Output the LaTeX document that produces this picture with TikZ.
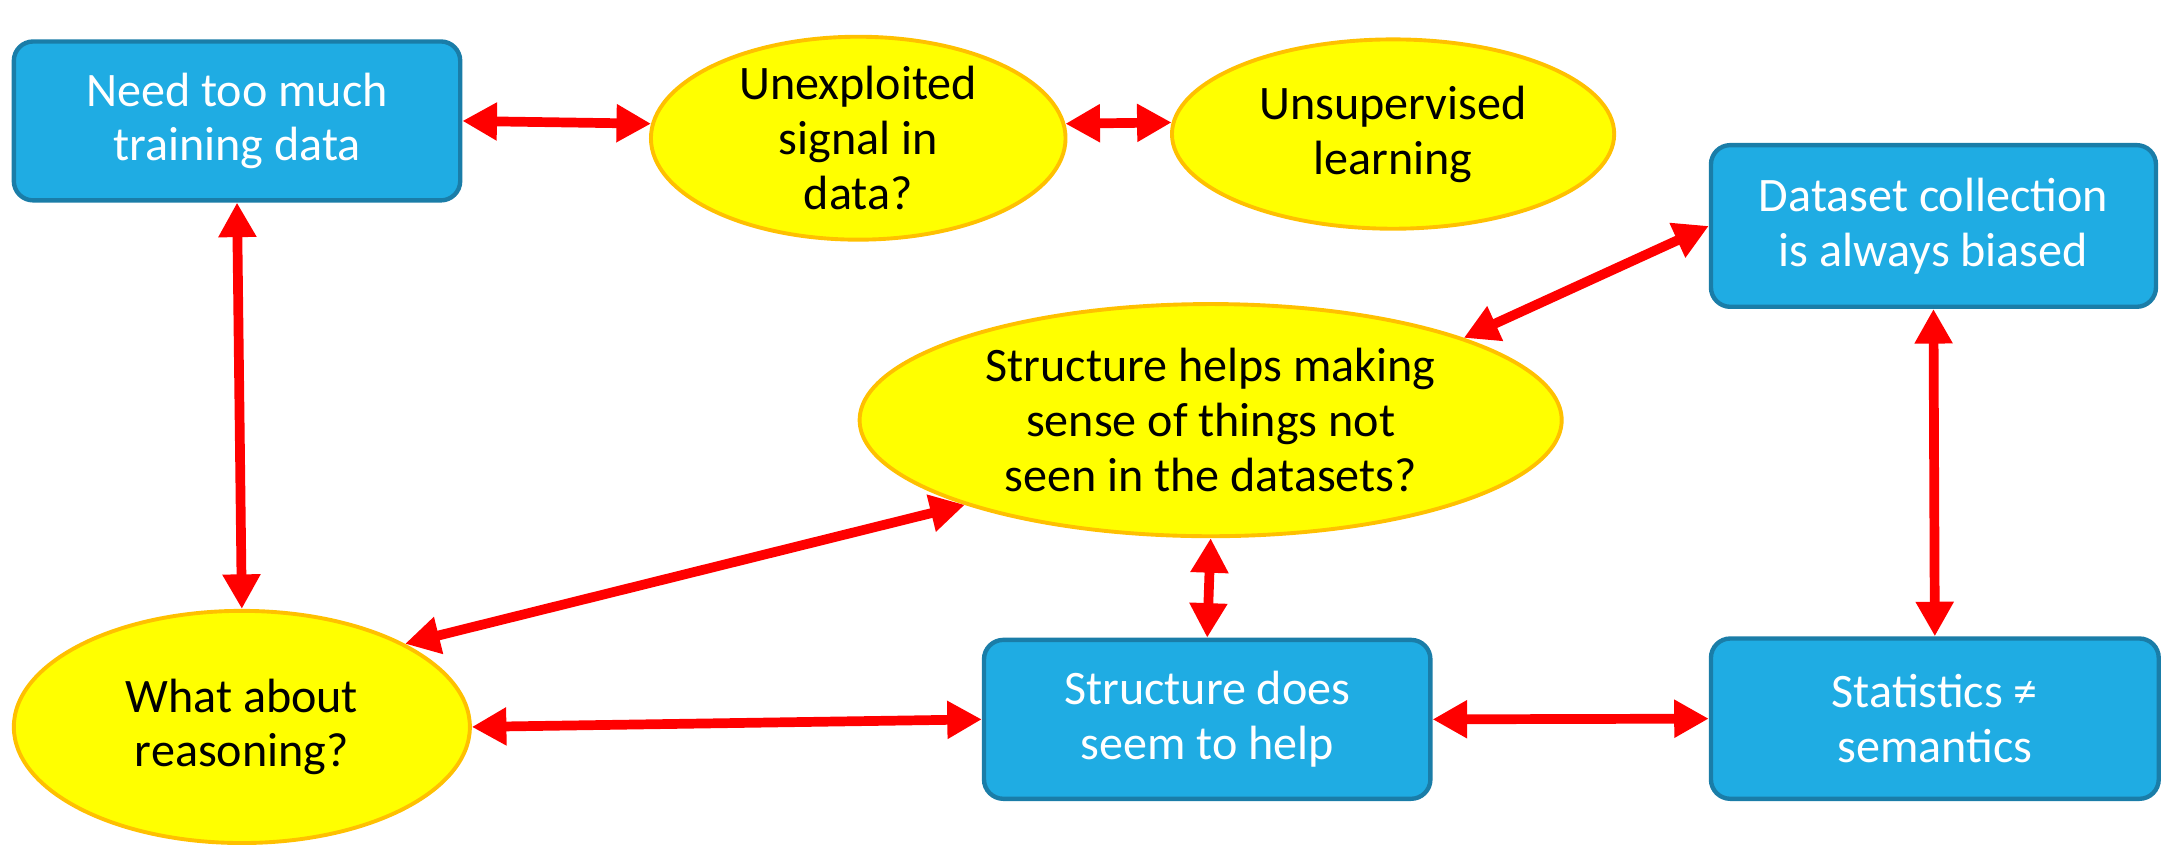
\documentclass[tikz,border=0pt]{standalone}
\usepackage{fontspec}
\setmainfont{Carlito}
\usetikzlibrary{arrows.meta, shapes.geometric}

\definecolor{boxblue}{RGB}{31,172,227}
\definecolor{boxedge}{RGB}{26,125,168}
\definecolor{blobedge}{RGB}{255,192,0}
\definecolor{blobfill}{RGB}{255,255,0}

\begin{document}
\begin{tikzpicture}[> = {Triangle[length = 0.25cm, width = 0.26cm]}]

	\tikzset{
		bluebox/.style = {rectangle, rounded corners = 0.14cm, fill = boxblue, draw = boxedge, line width = 0.9pt,
			text = white, align = center, minimum width = 3.23cm, minimum height = 1.15cm, inner sep = 0pt,
			font = \fontsize{9.9}{11.3}\selectfont},
		yellowblob/.style = {ellipse, fill = blobfill, draw = blobedge, line width = 0.8pt,
			align = center, inner sep = 0pt, font = \fontsize{9.9}{11.3}\selectfont},
		link/.style = {<->, red, line width = 2pt}
	}

	\useasboundingbox (0, 0) rectangle (15.68, -6.114);

	% Boxes

	\node [bluebox] (need) at (1.715, -0.875) {Need too much\\training data};
	\node [bluebox, minimum width = 3.22cm, minimum height = 1.17cm] (dataset) at (13.99, -1.635) {Dataset collection\\is always biased};
	\node [bluebox] (does) at (8.735, -5.205) {Structure does\\seem to help};
	\node [bluebox, minimum width = 3.24cm, minimum height = 1.16cm] (stats) at (14.00, -5.20) {Statistics ≠\\semantics};

	% Ellipses

	\node [yellowblob, minimum width = 3.00cm, minimum height = 1.44cm] (unexp) at (6.21, -1.00) {Unexploited\\signal in\\data?};
	\node [yellowblob, minimum width = 3.20cm, minimum height = 1.37cm] (unsup) at (10.08, -0.97) {Unsupervised\\learning};
	\node [yellowblob, minimum width = 5.08cm, minimum height = 1.68cm] (helps) at (8.76, -3.04) {Structure helps making\\sense of things not\\seen in the datasets?};
	\node [yellowblob, minimum width = 3.30cm, minimum height = 1.68cm] (reason) at (1.75, -5.26) {What about\\reasoning?};

	% Links

	\begin{scope}[link]

		\draw (need.east) -- (unexp.176);
		\draw (unexp.4) -- (unsup.177);
		\draw (need.south) -- (reason.north);
		\draw (dataset.west) -- (helps.18);
		\draw (dataset.south) -- (stats.north);
		\draw (reason.27) -- (helps.199);
		\draw (helps.south) -- (does.north);
		\draw (reason.east) -- (does.west);
		\draw (does.east) -- (stats.west);

	\end{scope}

\end{tikzpicture}
\end{document}
